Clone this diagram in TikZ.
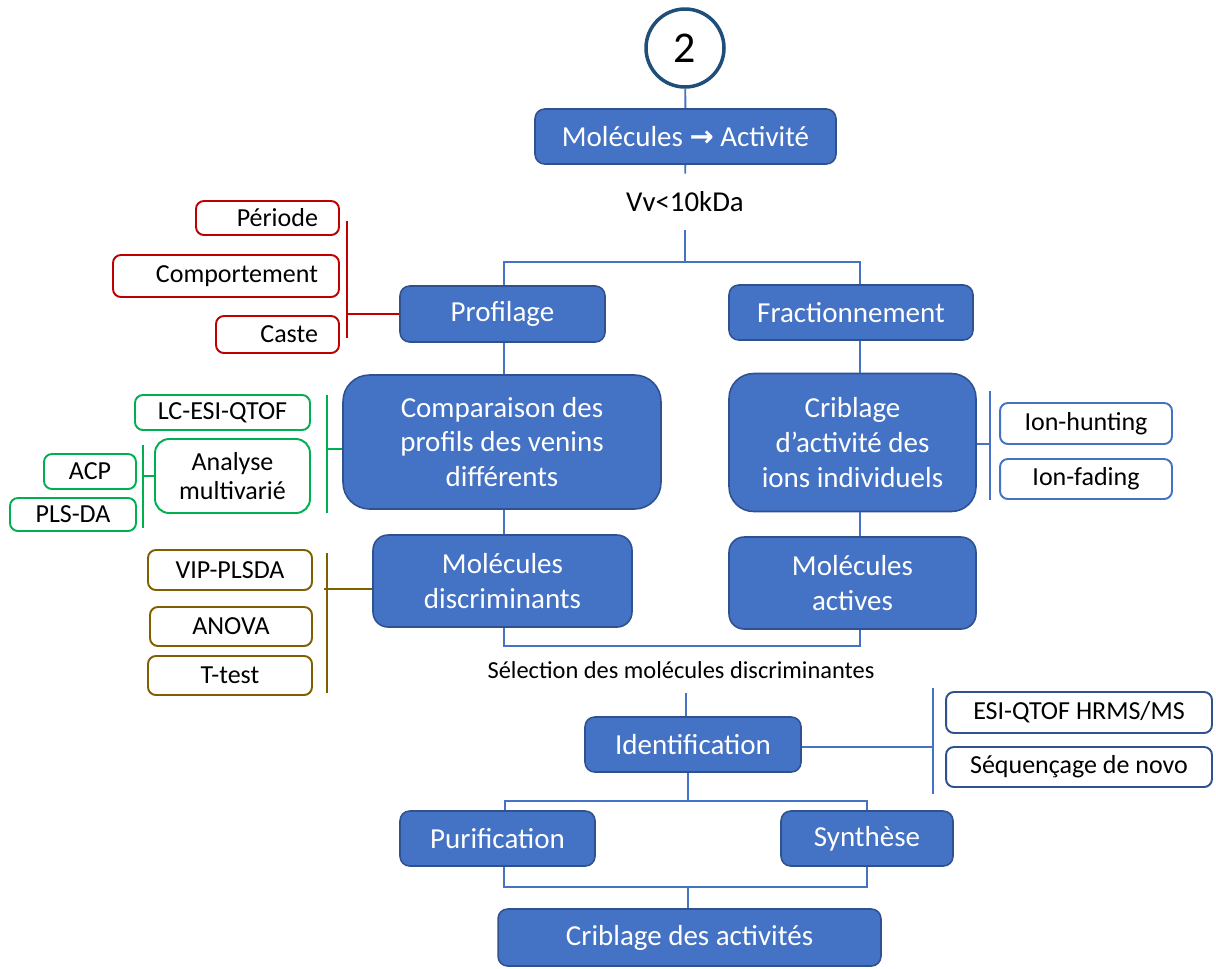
\documentclass[tikz,border=0pt]{standalone}
\usepackage{fontspec}
\setmainfont{Carlito}
\newfontfamily\arrowfont{DejaVu Sans}
\usepackage{tikz}
\usetikzlibrary{positioning, calc}

\definecolor{boxblue}{HTML}{4472C4}
\definecolor{boxedge}{HTML}{2F528F}
\definecolor{circedge}{HTML}{1F4E79}
\definecolor{tagred}{HTML}{C00000}
\definecolor{taggreen}{HTML}{00B050}
\definecolor{tagbrown}{HTML}{7F6000}

\begin{document}
\begin{tikzpicture}[
    x=0.02cm, y=-0.02cm,
    block/.style={rectangle, draw=boxedge, line width=0.9pt, fill=boxblue, text=white, align=center, inner sep=0pt, rounded corners=5.5pt, font=\fontsize{16.5}{19.9}\selectfont},
    tag/.style={rectangle, draw=#1, line width=1.1pt, fill=white, align=center, inner sep=0pt, rounded corners=4.5pt, font=\fontsize{14.8}{16}\selectfont},
    rtag/.style={tag=tagred, align=right},
    plain/.style={inner sep=0pt, align=center},
    conn/.style={draw=#1, line width=1.1pt},
    conn/.default=boxblue
]
    \useasboundingbox (0,0) rectangle (1216,968);

    % axe principal
    \node[circle, draw=circedge, line width=2pt, minimum size=1.56cm, inner sep=0pt, font=\fontsize{25}{28}\selectfont] (num) at (685,48) {2};
    \node[block, minimum width=6.02cm, minimum height=1.10cm] (mol) at (685.5,136.5) {Molécules {\arrowfont\bfseries →} Activité};
    \node[plain, minimum height=1.12cm, font=\fontsize{16.4}{19}\selectfont] (vv) at (685,202) {Vv<10kDa};

    % deux voies
    \node[block, minimum width=4.10cm, minimum height=1.12cm] (prof) at (502.5,314) {Profilage};
    \node[block, minimum width=4.88cm, minimum height=1.10cm] (frac) at (851,312.5) {Fractionnement};
    \node[block, rounded corners=15pt, minimum width=6.36cm, minimum height=2.68cm] (comp) at (502,442) {Comparaison des\\profils des venins\\différents};
    \node[block, rounded corners=14pt, minimum width=4.94cm, minimum height=2.76cm] (crib) at (852.5,442.5) {Criblage\\d’activité des\\ions individuels};
    \node[block, rounded corners=8.5pt, minimum width=5.18cm, minimum height=1.84cm] (disc) at (502.5,581) {Molécules\\discriminants};
    \node[block, rounded corners=8.5pt, minimum width=4.94cm, minimum height=1.84cm] (act) at (852.5,583) {Molécules\\actives};

    \node[plain, minimum height=0.92cm, font=\fontsize{13.9}{16}\selectfont] (sel) at (681,670) {Sélection des molécules discriminantes};

    % partie basse
    \node[block, minimum width=4.32cm, minimum height=1.10cm] (ident) at (693,744.5) {Identification};
    \node[block, minimum width=3.90cm, minimum height=1.10cm] (purif) at (497.5,838.5) {Purification};
    \node[block, minimum width=3.44cm, minimum height=1.10cm] (synth) at (867,838.5) {Synthèse};
    \node[block, minimum width=7.66cm, minimum height=1.14cm] (cribact) at (689.5,937.5) {Criblage des activités};

    % etiquettes
    \node[rtag, minimum width=2.86cm, minimum height=0.68cm, text width=2.02cm] (periode) at (267.5,218) {Période};
    \node[rtag, minimum width=4.52cm, minimum height=0.84cm, text width=3.68cm] (comport) at (226,276) {Comportement};
    \node[rtag, minimum width=2.46cm, minimum height=0.74cm, text width=1.62cm] (caste) at (277.5,334.5) {Caste};

    \node[tag=taggreen, minimum width=3.50cm, minimum height=0.70cm] (lcesi) at (222.5,412.5) {LC-ESI-QTOF};
    \node[tag=taggreen, rounded corners=8pt, minimum width=3.10cm, minimum height=1.48cm] (multi) at (232.5,476) {Analyse\\multivarié};
    \node[tag=taggreen, minimum width=1.84cm, minimum height=0.70cm] (acp) at (90,471.5) {ACP};
    \node[tag=taggreen, minimum width=2.52cm, minimum height=0.66cm] (plsda) at (73,514.5) {PLS-DA};

    \node[tag=tagbrown, minimum width=3.28cm, minimum height=0.80cm] (vip) at (230,570) {VIP-PLSDA};
    \node[tag=tagbrown, minimum width=3.24cm, minimum height=0.78cm] (anova) at (231,626.5) {ANOVA};
    \node[tag=tagbrown, minimum width=3.28cm, minimum height=0.78cm] (ttest) at (230,675.5) {T-test};

    \node[tag=boxblue, minimum width=3.44cm, minimum height=0.82cm] (ionh) at (1086,423.5) {Ion-hunting};
    \node[tag=boxblue, minimum width=3.44cm, minimum height=0.80cm] (ionf) at (1086,479) {Ion-fading};

    \node[tag=boxedge, minimum width=5.32cm, minimum height=0.82cm] (esi) at (1079,712.5) {ESI-QTOF HRMS/MS};
    \node[tag=boxedge, minimum width=5.32cm, minimum height=0.80cm] (seq) at (1079,767) {Séquençage de novo};

    % points de jonction
    \coordinate (xl) at (504,0);
    \coordinate (xr) at (860,0);
    \coordinate (xm) at (686,0);
    \coordinate (top) at (685,262);
    \coordinate (mid) at (685,646);
    \coordinate (low) at (688,801);
    \coordinate (bot) at (688,887);

    % liaisons
    \draw[conn] (num) -- (mol);
    \draw[conn] (mol) -- (vv);
    \draw[conn] (vv) -- (top);
    \draw[conn] (prof.north -| xl) |- (top) -| (frac.north -| xr);
    \draw[conn] (prof.south -| xl) -- (comp.north -| xl);
    \draw[conn] (comp.south -| xl) -- (disc.north -| xl);
    \draw[conn] (frac.south -| xr) -- (crib.north -| xr);
    \draw[conn] (crib.south -| xr) -- (act.north -| xr);
    \draw[conn] (disc.south -| xl) |- (mid) -| (act.south -| xr);
    \draw[conn] (sel.south -| xm) -- (ident.north -| xm);
    \draw[conn] (ident.south -| low) -- (low);
    \draw[conn] (purif.north -| 505,0) |- (low) -| (synth.north);
    \draw[conn] (purif.south -| xl) |- (bot) -| (synth.south);
    \draw[conn] (bot) -- (cribact.north -| bot);

    % accolades
    \coordinate (r1) at (347,221);
    \coordinate (r2) at (347,338);
    \draw[conn=tagred] (r1) -- (r2);
    \draw[conn=tagred] (r1 |- prof.west) -- (prof.west);

    \coordinate (g1) at (327,395);
    \coordinate (g2) at (327,513);
    \coordinate (g3) at (327,449);
    \draw[conn=taggreen] (g1) -- (g2);
    \draw[conn=taggreen] (g3) -- (g3 -| comp.west);
    \coordinate (g4) at (143,445);
    \coordinate (g5) at (143,528);
    \draw[conn=taggreen] (g4) -- (g5);
    \draw[conn=taggreen] (g4 |- multi.west) -- (multi.west);

    \coordinate (b1) at (327,553);
    \coordinate (b2) at (327,693);
    \draw[conn=tagbrown] (b1) -- (b2);
    \draw[conn=tagbrown] (324,589) -- (disc.west |- 0,589);

    \coordinate (i1) at (990,391);
    \coordinate (i2) at (990,500);
    \draw[conn] (i1) -- (i2);
    \draw[conn] (crib.east |- 0,444) -- (i1 |- 0,444);

    \coordinate (e1) at (933,688);
    \coordinate (e2) at (933,794);
    \draw[conn] (e1) -- (e2);
    \draw[conn] (ident.east |- 0,747) -- (e1 |- 0,747);
\end{tikzpicture}
\end{document}
